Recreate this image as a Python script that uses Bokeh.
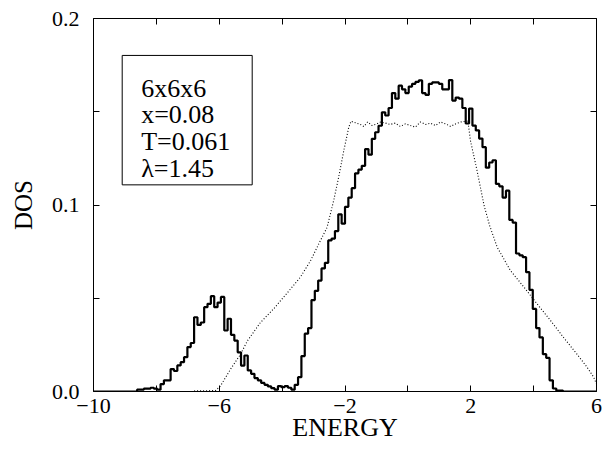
import numpy as np
from bokeh.plotting import figure
from bokeh.models import FixedTicker, LinearAxis, Label, BoxAnnotation
from bokeh.embed import file_html
from bokeh.resources import INLINE

# solid curve: histogram, 150 bins of width 16/150 from -10 to 6
dos_hist = [
    0, 0, 0, 0, 0, 0, 0, 0, 0, 0, 0, 0, 0,
    0.001, 0.001, 0.0015, 0.0015, 0.002, 0.0015, 0.001, 0.004, 0.006, 0.006,
    0.012, 0.011, 0.014, 0.0157, 0.0184, 0.0238, 0.026, 0.0398, 0.0357, 0.037,
    0.0452, 0.047, 0.0511, 0.0452, 0.0477, 0.0507, 0.0327, 0.039, 0.0304, 0.0273,
    0.021, 0.0139, 0.0193, 0.0113, 0.0095, 0.0072, 0.006, 0.0046, 0.0036, 0.0027,
    0.0018, 0.001, 0.0029, 0.0023, 0.0029, 0.002, 0.001, 0.0036, 0.0077, 0.019,
    0.031, 0.034, 0.049, 0.054, 0.0595, 0.066, 0.069, 0.081, 0.082, 0.086,
    0.095, 0.090, 0.099, 0.104, 0.109, 0.117, 0.119, 0.121, 0.130, 0.127,
    0.1355, 0.139, 0.1425, 0.1497, 0.148, 0.152, 0.160, 0.157, 0.164, 0.162,
    0.160, 0.1635, 0.165, 0.166, 0.1668, 0.160, 0.159, 0.165, 0.1657, 0.1657,
    0.165, 0.162, 0.162, 0.167, 0.156, 0.1576, 0.157, 0.152, 0.1437, 0.1517,
    0.1426, 0.140, 0.1356, 0.131, 0.120, 0.1228, 0.124, 0.1113, 0.110, 0.104,
    0.1077, 0.092, 0.0906, 0.074, 0.073, 0.072, 0.064, 0.0545, 0.0443, 0.034,
    0.029, 0.020, 0.018, 0.006, 0.0016, 0.0005, 0.0005,
    0, 0, 0, 0, 0, 0, 0, 0, 0, 0,
]

# dotted curve
dot_energy = [
    -6.8, -6.12, -5.96, -5.64, -5.32, -5.11, -4.69, -4.26, -3.63, -3.42,
    -3.1, -2.78, -2.57, -2.36, -2.2, -2.04, -1.88, -1.81, -1.67, -1.51,
    -1.40, -1.28, -1.14, -0.98, -0.87, -0.71, -0.56, -0.40, -0.24, -0.08,
    0.08, 0.24, 0.40, 0.56, 0.72, 0.88, 1.04, 1.20, 1.36, 1.52,
    1.68, 1.84, 1.91, 1.99, 2.2, 2.42, 2.6, 2.84, 3.26, 3.69,
    4.11, 4.54, 4.95, 5.38, 5.70, 5.91, 6.0,
]
dot_dos = [
    0.0003, 0.0005, 0.003, 0.012, 0.020, 0.027, 0.037, 0.0445, 0.057, 0.0613,
    0.070, 0.081, 0.088, 0.1024, 0.115, 0.129, 0.1417, 0.1449, 0.1441, 0.1432,
    0.1421, 0.1445, 0.1426, 0.1435, 0.1445, 0.1439, 0.1432, 0.1439, 0.1421, 0.1435,
    0.1426, 0.1418, 0.1445, 0.1432, 0.1439, 0.1426, 0.1445, 0.1435, 0.1421, 0.1435,
    0.1445, 0.1449, 0.145, 0.1346, 0.1185, 0.100, 0.089, 0.0774, 0.0649, 0.056,
    0.047, 0.038, 0.029, 0.020, 0.013, 0.0077, 0.004,
]

x_major = [-10, -6, -2, 2, 6]
x_minor = [-8, -4, 0, 4]
y_major = [0.0, 0.1, 0.2]
y_minor = [0.05, 0.15]
info_lines = ["6x6x6", "x=0.08", "T=0.061", "\u03bb=1.45"]

FONT = "Liberation Serif"

p = figure(
    frame_width=503,
    frame_height=373,
    x_range=(-10, 6),
    y_range=(0, 0.2),
    output_backend="svg",
    toolbar_location=None,
    min_border_left=93,
    min_border_right=17,
    min_border_top=18,
    min_border_bottom=60,
    x_axis_label="ENERGY",
    y_axis_label="DOS",
)
p.grid.visible = False
p.outline_line_color = "black"
p.outline_line_width = 1
p.outline_line_alpha = 1


def style_axis(ax, ticker, show_labels=True):
    ax.ticker = ticker
    ax.axis_line_color = None
    ax.major_tick_in = 6
    ax.major_tick_out = 0
    ax.minor_tick_in = 6
    ax.minor_tick_out = 0
    ax.major_tick_line_color = "black"
    ax.minor_tick_line_color = "black"
    ax.major_label_text_font = FONT
    ax.major_label_text_font_size = "22px"
    ax.major_label_text_color = "black"
    ax.axis_label_text_font = FONT
    ax.axis_label_text_font_size = "26px"
    ax.axis_label_text_font_style = "normal"
    ax.axis_label_text_color = "black"
    if not show_labels:
        ax.major_label_text_color = None
        ax.major_label_text_font_size = "1px"
        ax.major_label_standoff = 0


xt = FixedTicker(ticks=x_major, minor_ticks=x_minor)
yt = FixedTicker(ticks=y_major, minor_ticks=y_minor)

style_axis(p.xaxis[0], xt)
p.xaxis.major_label_overrides = {
    v: (str(v) if v >= 0 else "\u2212" + str(-v)) for v in x_major
}
p.xaxis.major_label_standoff = 7
p.xaxis.axis_label_standoff = -3

style_axis(p.yaxis[0], yt)
p.yaxis.major_label_overrides = {v: "%.1f" % v for v in y_major}
p.yaxis.major_label_standoff = 14
p.yaxis.axis_label_standoff = 12
p.yaxis.axis_label_text_font_size = "25px"

top = LinearAxis()
style_axis(top, FixedTicker(ticks=x_major, minor_ticks=x_minor), False)
p.add_layout(top, "above")
right = LinearAxis()
style_axis(right, FixedTicker(ticks=y_major, minor_ticks=y_minor), False)
p.add_layout(right, "right")

# histogram as a step line
w = 16 / len(dos_hist)
edges = -10 + w * np.arange(len(dos_hist) + 1)
p.step(edges, list(dos_hist) + [dos_hist[-1]], mode="after",
       line_color="black", line_width=2.2)

p.line(dot_energy, dot_dos, line_color="black", line_width=1.1, line_dash="1 2")

# parameter box
p.add_layout(BoxAnnotation(left=-9.087, right=-4.952, bottom=0.1108, top=0.1802,
                           fill_color=None, line_color="black", line_width=1,
                           line_alpha=1))
for i, txt in enumerate(info_lines):
    p.add_layout(Label(x=-8.483, y=0.1626 - i * 0.01426, text=txt,
                       text_font=FONT, text_font_size="26px",
                       text_color="black", text_baseline="alphabetic"))

open("out.html", "w").write(file_html(p, INLINE))
